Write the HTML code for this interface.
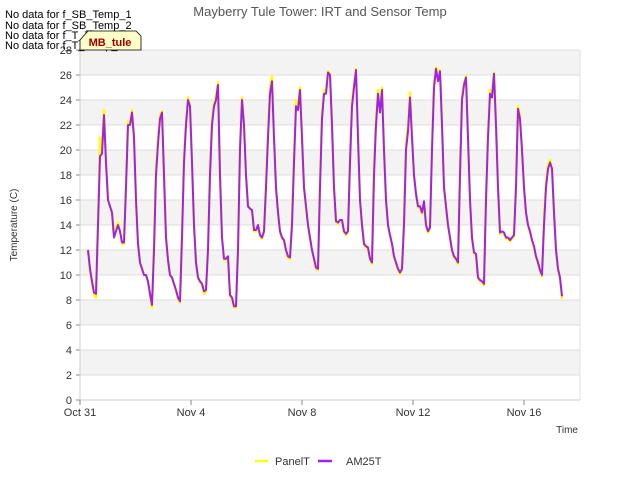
<!DOCTYPE html>
<html><head><meta charset="utf-8"><style>
body{margin:0;background:#fff;font-family:"Liberation Sans",sans-serif}
svg text{font-family:"Liberation Sans","DejaVu Sans",sans-serif}
</style></head><body>
<svg id="chart" width="640" height="480">
<text x="320" y="16" text-anchor="middle" font-size="13" fill="#555">Mayberry Tule Tower: IRT and Sensor Temp</text>
<g id="plot"></g>
<text transform="translate(17,225) rotate(-90)" text-anchor="middle" font-size="10" fill="#333">Temperature (C)</text>
<text x="578" y="433" text-anchor="end" font-size="10" fill="#333">Time</text>
<g font-size="11" fill="#000">
<text x="5" y="18">No data for f_SB_Temp_1</text>
<text x="5" y="29">No data for f_SB_Temp_2</text>
<text x="5" y="39">No data for f_T_Temp_1</text>
<text x="5" y="49">No data for f_T_Temp_2</text>
</g>
<g>
<path d="M80,40 L88,31 L136,31 L141,36 L141,50 L80,50 Z" fill="#ffffc8" stroke="#000" stroke-width="0.8"/>
<text x="110" y="46" text-anchor="middle" font-size="11" font-weight="bold" fill="#a00000">MB_tule</text>
</g>
<g>
<line x1="255" y1="461" x2="268" y2="461" stroke="#ffff00" stroke-width="2.5"/>
<text x="275" y="465" font-size="11" fill="#333">PanelT</text>
<line x1="318" y1="461" x2="332" y2="461" stroke="#a020f0" stroke-width="2.5"/>
<text x="346" y="465" font-size="11" fill="#333">AM25T</text>
</g>
</svg>
<script>
const am25t=[12,10.5,9.5,8.6,8.5,14,19.5,19.7,22.8,19,16,15.5,15,13,13.5,14,13.5,12.6,12.6,
17,22,22,23,21,16,12.5,11,10.5,10,10,9.5,8.5,7.6,
12,18,20.5,22.5,23,18,13,11.2,10,9.8,9.3,8.8,8.2,7.9,
13,19,22,24,23.5,19,14,11,9.8,9.5,9.3,8.7,8.8,
12,18,22,23.5,24,25.2,18,13,11.3,11.3,11.5,8.4,8.2,7.5,7.5,
12,20,24,22,18,15.5,15.3,15.2,13.6,13.6,14,13.2,13,13.5,
17,21,24.5,25.5,21,17,15,13.5,13,12.8,12,11.5,11.4,
14,19,23.5,23.2,24.8,21,17,15.5,14,13,12,11.3,10.6,10.5,
17,22.5,24.5,24.5,26.2,26,22,17,14.3,14.2,14.4,14.4,13.5,13.3,13.5,
19,23.5,25,26.4,21,16,14,12.5,12.3,12.2,11.3,11,
18,22,24.5,23,24.8,20,16,14,13.2,12.5,11.5,11,10.5,10.2,10.5,
14,20,21.5,24.2,21,18,16.5,15.5,15.5,15,15.9,14,13.5,13.8,
20,25,26.5,25.5,26.3,22,17,15.5,14,13,12,11.5,11.3,11,
18,24,25.2,25.8,21,16,13,11.8,11.7,9.8,9.6,9.5,9.3,
16,21,24.5,24.2,26.1,22,17,13.4,13.5,13.4,13,13,12.8,13,13.2,
17,23.3,22.5,20,17,15,14,13.5,12.8,12.3,11.5,11,10.4,10,
14,17,18.5,19,18.5,15,12,10.5,9.8,8.3];
const panelT=[12,10.3,9.3,8.4,8.2,14.5,21,20,23.2,19,16,15.5,15,13,13.8,14.2,13.5,12.5,12.5,
17.5,22.3,22.2,23.2,21,16,12.5,11,10.5,10,10,9.4,8.3,7.4,
12.5,18.5,21,22.8,23.1,18,13,11.1,10,9.8,9.2,8.7,8.1,7.8,
13.5,19.5,22.3,24.2,23.6,19,14,11,9.8,9.4,9.2,8.5,8.7,
12.5,18.5,22.5,23.8,24.3,25.4,18,13,11.2,11.2,11.4,8.3,8.1,7.4,7.4,
12.5,20.5,24.2,22,18,15.5,15.3,15.2,13.5,13.5,14,13.1,12.9,13.4,
17.5,21.5,25,25.9,21,17,15,13.4,12.9,12.7,11.9,11.4,11.3,
14.5,19.5,24,23.5,25,21,17,15.4,13.9,12.9,11.9,11.2,10.5,10.4,
17.5,23,24.8,24.8,26.3,26.1,22,17,14.2,14.1,14.4,14.4,13.4,13.2,13.4,
19.5,24,25.3,26.5,21,16,14,12.4,12.2,12.1,11.2,10.9,
18.5,22.5,24.8,23.2,25,20,16,13.9,13.1,12.4,11.4,10.9,10.4,10.1,10.4,
14.5,20.5,22,24.6,21,18,16.4,15.4,15.4,14.9,15.8,13.9,13.4,13.7,
20.5,25.5,26.6,25.8,26.4,22,17,15.4,13.9,12.9,11.9,11.4,11.2,10.9,
18.5,24.3,25.4,25.9,21,16,12.8,11.7,11.6,9.7,9.5,9.4,9.2,
16.5,21.5,24.8,24.4,26.2,22,17,13.3,13.4,13.3,12.9,12.9,12.7,12.9,13.1,
17.5,23.5,22.8,20,17,15,14,13.4,12.7,12.2,11.4,10.9,10.3,9.9,
14.5,17.5,18.8,19.2,18.6,15,12,10.4,9.7,8.1];
const startDay=0.288, stepDay=0.07207;
const times=am25t.map((_,i)=>startDay+i*stepDay);
const yTicks=[0,2,4,6,8,10,12,14,16,18,20,22,24,26,28];
const xTickDays=[0,4,8,12,16];
const xTickLabels=["Oct 31","Nov 4","Nov 8","Nov 12","Nov 16"];
const L=80,R=580,T=50,B=400;
const xs=d=>L+d*27.75;
const ys=v=>B-(v/28)*(B-T);
const NS="http://www.w3.org/2000/svg";
const g=document.getElementById('plot');
function mk(tag,attrs,parent){const e=document.createElementNS(NS,tag);for(const k in attrs)e.setAttribute(k,attrs[k]);(parent||g).appendChild(e);return e;}
mk('rect',{x:L,y:T,width:R-L,height:B-T,fill:'#fff'});
for(let i=0;i<yTicks.length-1;i++){
  if(i%2===1){const b=mk('rect',{x:L,y:ys(yTicks[i+1]),width:R-L,height:ys(yTicks[i])-ys(yTicks[i+1]),fill:'#f3f3f3'});
  
  }
}
yTicks.forEach(v=>{
  const l=mk('line',{x1:L,x2:R,y1:ys(v),y2:ys(v),stroke:'#dcdcdc','stroke-width':1});
  
  
  mk('line',{x1:L-4,x2:L,y1:ys(v),y2:ys(v),stroke:'#888'});
  const t=mk('text',{x:L-8,y:ys(v)+4,'text-anchor':'end','font-size':11,fill:'#333'});t.textContent=v;
  
  
});
mk('line',{x1:L,x2:L,y1:T,y2:B,stroke:'#ccc'});
mk('line',{x1:L,x2:R,y1:B,y2:B,stroke:'#ccc'});
mk('line',{x1:R,x2:R,y1:T,y2:B,stroke:'#e0e0e0'});
xTickDays.forEach((d,i)=>{
  mk('line',{x1:xs(d),x2:xs(d),y1:B,y2:B+5,stroke:'#888'});
  const t=mk('text',{x:xs(d),y:B+16,'text-anchor':'middle','font-size':11,fill:'#333'});t.textContent=xTickLabels[i];
  
  
});
function line(vals,color,w,name){
  const d=vals.map((v,i)=>(i?'L':'M')+xs(times[i]).toFixed(1)+','+ys(v).toFixed(1)).join(' ');
  const p=mk('path',{d:d,fill:'none',stroke:color,'stroke-width':w,'stroke-linejoin':'round'});
  
  
}
line(panelT,'#ffff00',2.5,'panelt-line');
line(am25t,'#a020f0',2,'am25t-line');
</script>
</body></html>
